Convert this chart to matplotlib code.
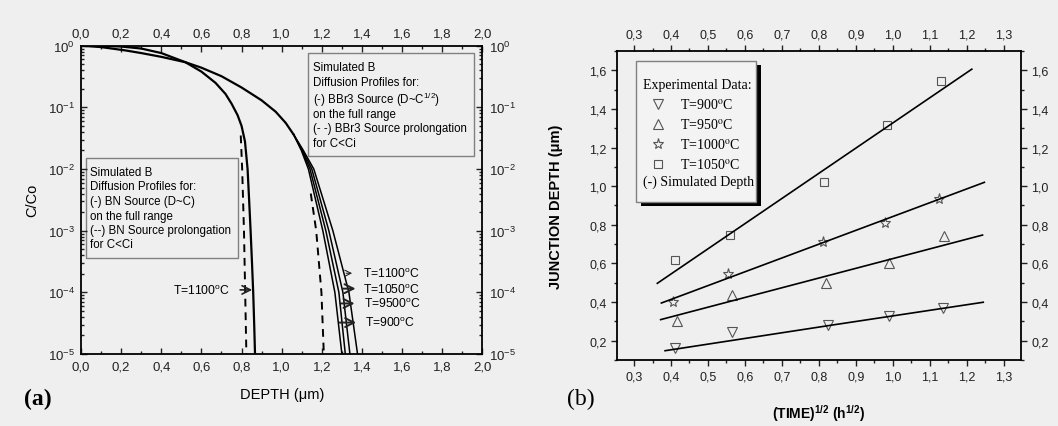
import numpy as np
import matplotlib.pyplot as plt
from matplotlib.patches import Rectangle
from matplotlib.ticker import MultipleLocator, FuncFormatter, LogLocator, NullFormatter

# ---- panel (a): simulated boron profiles, C/Co vs depth (um) ----
bn_x = [0.0, 0.1, 0.2, 0.3, 0.4, 0.52, 0.6, 0.67, 0.72, 0.75, 0.78, 0.80, 0.817, 0.83, 0.838, 0.845, 0.852, 0.858, 0.863, 0.867]
bn_y = [1.0, 0.995, 0.97, 0.90, 0.76, 0.54, 0.38, 0.25, 0.165, 0.115, 0.075, 0.05, 0.028, 1e-2, 3e-3, 1e-3, 3e-4, 1e-4, 3e-5, 1e-5]
bn_dash_x = [0.796, 0.803, 0.812, 0.818, 0.824]
bn_dash_y = [3.5e-2, 1e-2, 1e-3, 1e-4, 1e-5]

bbr_x = [0.0, 0.1, 0.22, 0.3, 0.4, 0.52, 0.6, 0.7, 0.8, 0.9, 0.97, 1.02, 1.06]
bbr_y = [1.0, 0.95, 0.84, 0.76, 0.66, 0.54, 0.44, 0.32, 0.21, 0.13, 0.085, 0.056, 0.036]
# tails of the BBr3 profiles, one per temperature (900, 950, 1050, 1100 C)
tail_y = [0.036, 0.02, 1e-2, 1e-3, 1e-4, 1e-5]
tail_x = [
    [1.06, 1.098, 1.133, 1.205, 1.265, 1.300],
    [1.06, 1.101, 1.141, 1.220, 1.285, 1.317],
    [1.06, 1.104, 1.150, 1.235, 1.305, 1.340],
    [1.06, 1.108, 1.160, 1.255, 1.335, 1.378],
]
bbr_dash_x = [1.145, 1.172, 1.198, 1.21]
bbr_dash_y = [4e-3, 1e-3, 1e-4, 1e-5]

right_labels = ["T=1100$^{\\mathrm{o}}$C", "T=1050$^{\\mathrm{o}}$C", "T=9500$^{\\mathrm{o}}$C", "T=900$^{\\mathrm{o}}$C"]
right_arrow_y = [10**-3.69, 10**-3.94, 10**-4.18, 10**-4.49]
right_arrow_x0 = [1.307, 1.291, 1.277, 1.274]
right_arrow_x1 = [1.365, 1.382, 1.377, 1.385]
right_text_x = [1.404, 1.407, 1.41, 1.415]

box_left_lines = ["Simulated B", "Diffusion Profiles for:", "(-) BN Source (D~C)",
                  "on the full range", "(--) BN Source prolongation", "for C<Ci"]
box_right_lines = ["Simulated B", "Diffusion Profiles for:", "(-) BBr3 Source (D~C$^{1/2}$)",
                   "on the full range", "(- -) BBr3 Source prolongation", "for C<Ci"]

# ---- panel (b): junction depth vs sqrt(time) ----
t900_x = [0.41, 0.565, 0.825, 0.99, 1.135]
t900_y = [0.16, 0.245, 0.28, 0.33, 0.37]
t950_x = [0.415, 0.565, 0.82, 0.99, 1.14]
t950_y = [0.30, 0.435, 0.50, 0.60, 0.74]
t1000_x = [0.405, 0.555, 0.81, 0.98, 1.125]
t1000_y = [0.40, 0.545, 0.71, 0.81, 0.935]
t1050_x = [0.41, 0.56, 0.815, 0.985, 1.13]
t1050_y = [0.62, 0.745, 1.02, 1.315, 1.545]

sim900_x = [0.384, 0.84, 1.245]
sim900_y = [0.148, 0.282, 0.399]
sim950_x = [0.372, 1.243]
sim950_y = [0.309, 0.747]
sim1000_x = [0.374, 1.248]
sim1000_y = [0.395, 1.02]
sim1050_x = [0.363, 1.214]
sim1050_y = [0.497, 1.606]

legend_labels = ["T=900$^{\\mathrm{o}}$C", "T=950$^{\\mathrm{o}}$C", "T=1000$^{\\mathrm{o}}$C", "T=1050$^{\\mathrm{o}}$C"]

BG = '#efefef'
plt.rcParams['font.family'] = ['Liberation Sans', 'DejaVu Sans']
plt.rcParams['mathtext.fontset'] = 'custom'
plt.rcParams['mathtext.rm'] = 'Liberation Sans'
plt.rcParams['mathtext.it'] = 'Liberation Sans:italic'
plt.rcParams['mathtext.bf'] = 'Liberation Sans:bold'

fig = plt.figure(figsize=(10.58, 4.27), dpi=100, facecolor=BG)
comma = FuncFormatter(lambda v, p: f"{v:.1f}".replace('.', ','))

# ================= panel (a) =================
ax = fig.add_axes([0.0766, 0.1686, 0.3793, 0.722], facecolor=BG)
ax.set_yscale('log')
ax.set_xlim(0, 2.0)
ax.set_ylim(1e-5, 1)

ax.plot(bn_x, bn_y, color='k', lw=1.6)
ax.plot(bn_dash_x, bn_dash_y, color='k', lw=1.4, ls=(0, (4, 3)))
ax.plot(bbr_x, bbr_y, color='k', lw=1.6)
for tx in tail_x:
    ax.plot(tx, tail_y, color='k', lw=1.1)
ax.plot(bbr_dash_x, bbr_dash_y, color='k', lw=1.4, ls=(0, (4, 3)))

# arrows and temperature labels
ax.annotate('', xy=(0.867, 10**-3.96), xytext=(0.779, 10**-3.96),
            arrowprops=dict(arrowstyle='->', lw=1.2, color='#222', mutation_scale=15))
ax.text(0.743, 10**-3.96, "T=1100$^{\\mathrm{o}}$C", ha='right', va='center', fontsize=8.7)
for i in range(len(right_labels)):
    lw = 0.8 if i == 0 else 1.4
    ms = 11 if i == 0 else 16
    ax.annotate('', xy=(right_arrow_x1[i], right_arrow_y[i]), xytext=(right_arrow_x0[i], right_arrow_y[i]),
                arrowprops=dict(arrowstyle='->', lw=lw, color='#222', mutation_scale=ms))
    ax.text(right_text_x[i], right_arrow_y[i], right_labels[i], ha='left', va='center', fontsize=8.7)

# text boxes
ax.add_patch(Rectangle((0.0125, 0.310), 0.3775, 0.327, transform=ax.transAxes,
                       fill=False, ec='#808080', lw=1.0))
for i, s in enumerate(box_left_lines):
    ax.text(0.0224, [0.591, 0.545, 0.497, 0.448, 0.403, 0.357][i], s, transform=ax.transAxes,
            ha='left', va='center', fontsize=8.3)
ax.add_patch(Rectangle((0.566, 0.641), 0.412, 0.335, transform=ax.transAxes,
                       fill=False, ec='#808080', lw=1.0))
for i, s in enumerate(box_right_lines):
    ax.text(0.579, [0.930, 0.883, 0.827, 0.780, 0.733, 0.686][i], s, transform=ax.transAxes,
            ha='left', va='center', fontsize=8.3)

ax.xaxis.set_major_locator(MultipleLocator(0.2))
ax.xaxis.set_minor_locator(MultipleLocator(0.1))
ax.xaxis.set_major_formatter(comma)
ax.yaxis.set_major_locator(LogLocator(base=10, numticks=10))
ax.yaxis.set_minor_locator(LogLocator(base=10, subs=np.arange(2, 10), numticks=10))
ax.yaxis.set_minor_formatter(NullFormatter())
ax.tick_params(which='both', direction='in', top=True, right=True, labeltop=True, labelright=True,
               labelsize=9.5, pad=4.5, width=1.0, colors='#222')
ax.tick_params(which='major', length=4)
ax.tick_params(which='minor', length=2)
for s in ax.spines.values():
    s.set_linewidth(1.3)
ax.set_xlabel("DEPTH (\u03bcm)", fontsize=10.5)
ax.set_ylabel("C/Co", fontsize=10.5)
ax.xaxis.set_label_coords(0.5, -0.108)
ax.yaxis.set_label_coords(-0.104, 0.5)

fig.text(0.0362, 0.065, "(a)", fontsize=17, fontweight='bold', family='Liberation Serif',
         ha='center', va='center')

# ================= panel (b) =================
bx = fig.add_axes([0.5832, 0.1546, 0.3818, 0.7236], facecolor=BG)
bx.set_xlim(0.254, 1.347)
bx.set_ylim(0.1, 1.7)

mk = dict(ls='none', mfc='none', mec='#555', mew=0.8)
bx.plot(t900_x, t900_y, marker='v', ms=7, **mk)
bx.plot(t950_x, t950_y, marker='^', ms=7, **mk)
bx.plot(t1000_x, t1000_y, marker='*', ms=8, **mk)
bx.plot(t1050_x, t1050_y, marker='s', ms=5.5, **mk)
for sx, sy in [(sim900_x, sim900_y), (sim950_x, sim950_y), (sim1000_x, sim1000_y), (sim1050_x, sim1050_y)]:
    bx.plot(sx, sy, color='k', lw=1.2)

# hand-made legend with drop shadow
bx.add_patch(Rectangle((0.060, 0.497), 0.297, 0.457, transform=bx.transAxes,
                       fc='k', ec='k', lw=0, zorder=5))
bx.add_patch(Rectangle((0.047, 0.511), 0.297, 0.457, transform=bx.transAxes,
                       fc='#f3f3f3', ec='#808080', lw=1.0, zorder=6))
bx.text(0.065, 0.893, "Experimental Data:", transform=bx.transAxes, fontsize=10,
        family='Liberation Serif', ha='left', va='center', zorder=7)
leg_y = [0.828, 0.764, 0.699, 0.634]
leg_m = [('v', 7), ('^', 7), ('*', 8), ('s', 5.5)]
for i in range(4):
    bx.plot([0.101], [leg_y[i]], marker=leg_m[i][0], ms=leg_m[i][1], transform=bx.transAxes,
            clip_on=False, zorder=7, **mk)
    bx.text(0.156, leg_y[i], legend_labels[i], transform=bx.transAxes, fontsize=10,
            family='Liberation Serif', math_fontfamily='stix', ha='left', va='center', zorder=7)
bx.text(0.065, 0.580, "(-) Simulated Depth", transform=bx.transAxes, fontsize=10,
        family='Liberation Serif', ha='left', va='center', zorder=7)

bx.xaxis.set_major_locator(MultipleLocator(0.1))
bx.xaxis.set_minor_locator(MultipleLocator(0.05))
bx.yaxis.set_major_locator(MultipleLocator(0.2))
bx.yaxis.set_minor_locator(MultipleLocator(0.1))
bx.xaxis.set_major_formatter(comma)
bx.yaxis.set_major_formatter(comma)
bx.tick_params(which='both', direction='out', top=True, right=True, labeltop=True, labelright=True,
               labelsize=9, pad=3.5, width=1.0, colors='#222')
bx.tick_params(which='major', length=4)
bx.tick_params(which='minor', length=2)
for s in bx.spines.values():
    s.set_linewidth(1.3)
bx.set_xlabel("(TIME)$^{\\mathbf{1/2}}$ (h$^{\\mathbf{1/2}}$)", fontsize=10, fontweight='bold')
bx.set_ylabel("JUNCTION DEPTH (\u03bcm)", fontsize=10.5, fontweight='bold')
bx.xaxis.set_label_coords(0.5, -0.137)
bx.yaxis.set_label_coords(-0.133, 0.5)

fig.text(0.5494, 0.065, "(b)", fontsize=17, family='Liberation Serif', ha='center', va='center')

fig.savefig("out.png", dpi=100, facecolor=BG)
